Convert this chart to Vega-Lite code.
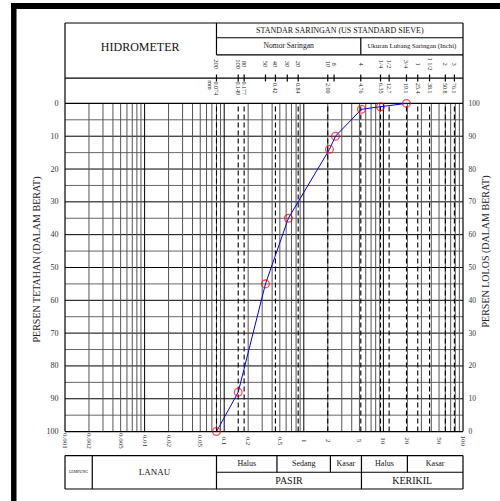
{
  "$schema": "https://vega.github.io/schema/vega-lite/v6.json",
  "width": 398,
  "height": 466,
  "autosize": {"type": "none"},
  "padding": {"left": 65, "top": 23, "right": 37, "bottom": 12},
  "background": "white",
  "config": {"font": "Liberation Serif", "view": {"stroke": null}},
  "datasets": {
    "kurva": [
      {"d": 0.08, "lolos": 0},
      {"d": 0.15, "lolos": 12},
      {"d": 0.33, "lolos": 45},
      {"d": 0.64, "lolos": 65},
      {"d": 2.1, "lolos": 86},
      {"d": 2.5, "lolos": 90},
      {"d": 5.3, "lolos": 98.2},
      {"d": 9.2, "lolos": 99},
      {"d": 19.5, "lolos": 100}
    ],
    "saringan": [
      {"no": "200", "mm": "0.074", "pos": 0.08},
      {"no": "100", "mm": "0.149", "pos": 0.15},
      {"no": "80", "mm": "0.177", "pos": 0.178},
      {"no": "50", "mm": "", "pos": 0.33},
      {"no": "40", "mm": "0.42", "pos": 0.44},
      {"no": "30", "mm": "", "pos": 0.62},
      {"no": "20", "mm": "0.84", "pos": 0.85},
      {"no": "10", "mm": "2.00", "pos": 2.0},
      {"no": "8", "mm": "", "pos": 2.4},
      {"no": "4", "mm": "4.76", "pos": 5.2},
      {"no": "1/4", "mm": "6.35", "pos": 9.2},
      {"no": "1/2", "mm": "12.7", "pos": 11.8},
      {"no": "3/4", "mm": "19.1", "pos": 19.5},
      {"no": "1", "mm": "25.4", "pos": 27},
      {"no": "1 1/2", "mm": "38.1", "pos": 38},
      {"no": "2", "mm": "50.8", "pos": 60},
      {"no": "3", "mm": "76.1", "pos": 78}
    ],
    "grid_v": [
      {"d": 0.002}, {"d": 0.003}, {"d": 0.004}, {"d": 0.005}, {"d": 0.006}, {"d": 0.007}, {"d": 0.008}, {"d": 0.009},
      {"d": 0.01}, {"d": 0.02}, {"d": 0.03}, {"d": 0.04}, {"d": 0.05}, {"d": 0.06}, {"d": 0.07}, {"d": 0.08}, {"d": 0.09},
      {"d": 0.1}, {"d": 0.2}, {"d": 0.3}, {"d": 0.4}, {"d": 0.5}, {"d": 0.6}, {"d": 0.7}, {"d": 0.8}, {"d": 0.9},
      {"d": 1}, {"d": 2}, {"d": 3}, {"d": 4}, {"d": 5}, {"d": 6}, {"d": 7}, {"d": 8}, {"d": 9},
      {"d": 10}, {"d": 20}, {"d": 30}, {"d": 40}, {"d": 50}, {"d": 60}, {"d": 70}, {"d": 80}, {"d": 90}
    ],
    "grid_h": [
      {"p": 5}, {"p": 10}, {"p": 15}, {"p": 20}, {"p": 25}, {"p": 30}, {"p": 35}, {"p": 40}, {"p": 45},
      {"p": 50}, {"p": 55}, {"p": 60}, {"p": 65}, {"p": 70}, {"p": 75}, {"p": 80}, {"p": 85}, {"p": 90}, {"p": 95}
    ],
    "garis": [
      {"x1": 0.001, "x2": 100, "y1": 124.5, "y2": 124.5},
      {"x1": 0.08, "x2": 100, "y1": 120, "y2": 120},
      {"x1": 0.08, "x2": 100, "y1": 114.8, "y2": 114.8},
      {"x1": 0.001, "x2": 100, "y1": 107.7, "y2": 107.7},
      {"x1": 0.001, "x2": 100, "y1": 100, "y2": 100},
      {"x1": 0.001, "x2": 100, "y1": 0, "y2": 0},
      {"x1": 0.001, "x2": 0.001, "y1": 0, "y2": 124.5},
      {"x1": 100, "x2": 100, "y1": 0, "y2": 124.5},
      {"x1": 0.08, "x2": 0.08, "y1": 114.8, "y2": 124.5},
      {"x1": 5.2, "x2": 5.2, "y1": 114.8, "y2": 120},
      {"x1": 0.001, "x2": 100, "y1": -7.3, "y2": -7.3},
      {"x1": 0.08, "x2": 100, "y1": -12.4, "y2": -12.4},
      {"x1": 0.001, "x2": 100, "y1": -17.5, "y2": -17.5},
      {"x1": 0.001, "x2": 0.001, "y1": -17.5, "y2": -7.3},
      {"x1": 0.0022, "x2": 0.0022, "y1": -17.5, "y2": -7.3},
      {"x1": 0.08, "x2": 0.08, "y1": -17.5, "y2": -7.3},
      {"x1": 5.3, "x2": 5.3, "y1": -17.5, "y2": -7.3},
      {"x1": 100, "x2": 100, "y1": -17.5, "y2": -7.3},
      {"x1": 0.46, "x2": 0.46, "y1": -12.4, "y2": -7.3},
      {"x1": 2.16, "x2": 2.16, "y1": -12.4, "y2": -7.3},
      {"x1": 20, "x2": 20, "y1": -12.4, "y2": -7.3}
    ],
    "bingkai": [
      {"x1": 0.00021, "x2": 0.000246, "y1": 130.6, "y2": -22},
      {"x1": 0.00021, "x2": 300, "y1": 130.6, "y2": 128.8}
    ],
    "teks": [
      {"t": "HIDROMETER", "x": 0.0088, "y": 117.1, "jenis": "judul"},
      {"t": "STANDAR SARINGAN (US STANDARD SIEVE)", "x": 2.83, "y": 122.2, "jenis": "tabel"},
      {"t": "Nomor Saringan", "x": 0.645, "y": 117.4, "jenis": "sub"},
      {"t": "Ukuran Lubang Saringan (Inchi)", "x": 22.8, "y": 117.4, "jenis": "subkecil"},
      {"t": "LEMPUNG", "x": 0.00148, "y": -12.4, "jenis": "mini"},
      {"t": "LANAU", "x": 0.0133, "y": -12.4, "jenis": "fraksi"},
      {"t": "Halus", "x": 0.192, "y": -9.85, "jenis": "tabel"},
      {"t": "Sedang", "x": 1.0, "y": -9.85, "jenis": "tabel"},
      {"t": "Kasar", "x": 3.38, "y": -9.85, "jenis": "tabel"},
      {"t": "Halus", "x": 10.3, "y": -9.85, "jenis": "tabel"},
      {"t": "Kasar", "x": 44.7, "y": -9.85, "jenis": "tabel"},
      {"t": "PASIR", "x": 0.651, "y": -14.95, "jenis": "kelompok"},
      {"t": "KERIKIL", "x": 23, "y": -14.95, "jenis": "kelompok"}
    ],
    "label_x": [
      {"d": 0.001, "t": "0.001"}, {"d": 0.002, "t": "0.002"}, {"d": 0.005, "t": "0.005"},
      {"d": 0.01, "t": "0.01"}, {"d": 0.02, "t": "0.02"}, {"d": 0.05, "t": "0.05"},
      {"d": 0.1, "t": "0.1"}, {"d": 0.2, "t": "0.2"}, {"d": 0.5, "t": "0.5"},
      {"d": 1, "t": "1"}, {"d": 2, "t": "2"}, {"d": 5, "t": "5"},
      {"d": 10, "t": "10"}, {"d": 20, "t": "20"}, {"d": 50, "t": "50"}, {"d": 100, "t": "100"}
    ]
  },
  "layer": [
    {
      "data": {"name": "grid_h"},
      "mark": {"type": "rule", "strokeWidth": 1},
      "encoding": {
        "y": {
          "field": "p", "type": "quantitative",
          "scale": {"domain": [-17.5, 124.5], "nice": false, "zero": false},
          "axis": {
            "orient": "right", "values": [0, 10, 20, 30, 40, 50, 60, 70, 80, 90, 100],
            "title": "PERSEN LOLOS (DALAM BERAT)", "domain": false, "ticks": false, "grid": false,
            "labelPadding": 5, "labelFontSize": 7.5, "labelColor": "#333",
            "titleFontSize": 10, "titleFontWeight": "normal", "titleColor": "#222",
            "titleAngle": -90, "titleY": 228, "titlePadding": 11
          }
        },
        "stroke": {"condition": {"test": "datum.p % 10 === 0", "value": "#000"}, "value": "#666"}
      }
    },
    {
      "data": {"name": "grid_h"},
      "mark": {"type": "rule", "strokeOpacity": 0},
      "encoding": {
        "y": {
          "field": "p", "type": "quantitative",
          "scale": {"domain": [-17.5, 124.5], "nice": false, "zero": false},
          "axis": {
            "orient": "left", "values": [0, 10, 20, 30, 40, 50, 60, 70, 80, 90, 100],
            "labelExpr": "'' + (100 - datum.value)",
            "title": "PERSEN TETAHAN (DALAM BERAT)", "domain": false, "ticks": false, "grid": false,
            "labelPadding": 7, "labelFontSize": 8, "labelColor": "#333",
            "titleFontSize": 10, "titleFontWeight": "normal", "titleColor": "#222",
            "titleY": 236, "titlePadding": 5
          }
        }
      }
    },
    {
      "layer": [
        {
          "data": {"name": "grid_v"},
          "mark": {"type": "rule", "strokeWidth": 1},
          "encoding": {
            "x": {"field": "d", "type": "quantitative", "scale": {"type": "log", "domain": [0.001, 100], "nice": false}, "axis": null},
            "y": {"datum": 0, "type": "quantitative", "scale": {"domain": [-17.5, 124.5], "nice": false, "zero": false}, "axis": null},
            "y2": {"datum": 100},
            "stroke": {"condition": {"test": "abs(log(datum.d)/LN10 - round(log(datum.d)/LN10)) < 0.000001", "value": "#000"}, "value": "#555"}
          }
        },
        {
          "data": {"name": "saringan"},
          "transform": [{"filter": "datum.mm != ''"}],
          "mark": {"type": "rule", "strokeWidth": 1.1, "strokeDash": [5, 3], "color": "#000"},
          "encoding": {
            "x": {"field": "pos", "type": "quantitative", "scale": {"type": "log", "domain": [0.001, 100], "nice": false}, "axis": null},
            "y": {"datum": 0, "type": "quantitative", "axis": null},
            "y2": {"datum": 100}
          }
        },
        {
          "data": {"name": "garis"},
          "mark": {"type": "rule", "strokeWidth": 1.2, "color": "#000"},
          "encoding": {
            "x": {"field": "x1", "type": "quantitative", "scale": {"type": "log", "domain": [0.001, 100], "nice": false}, "axis": null},
            "x2": {"field": "x2"},
            "y": {"field": "y1", "type": "quantitative", "axis": null},
            "y2": {"field": "y2"}
          }
        },
        {
          "data": {"name": "bingkai"},
          "mark": {"type": "rect", "color": "#000"},
          "encoding": {
            "x": {"field": "x1", "type": "quantitative", "scale": {"type": "log", "domain": [0.001, 100], "nice": false}, "axis": null},
            "x2": {"field": "x2"},
            "y": {"field": "y1", "type": "quantitative", "axis": null},
            "y2": {"field": "y2"}
          }
        },
        {
          "data": {"name": "saringan"},
          "mark": {"type": "rule", "strokeWidth": 1.2, "color": "#000"},
          "encoding": {
            "x": {"field": "pos", "type": "quantitative", "scale": {"type": "log", "domain": [0.001, 100], "nice": false}, "axis": null},
            "y": {"datum": 106.7, "type": "quantitative", "axis": null},
            "y2": {"datum": 108.8}
          }
        },
        {
          "data": {"name": "saringan"},
          "mark": {"type": "text", "angle": 90, "align": "center", "baseline": "middle", "fontSize": 6.5, "color": "#222"},
          "encoding": {
            "x": {"field": "pos", "type": "quantitative", "scale": {"type": "log", "domain": [0.001, 100], "nice": false}, "axis": null},
            "y": {"datum": 112, "type": "quantitative", "axis": null},
            "text": {"field": "no"}
          }
        },
        {
          "data": {"name": "saringan"},
          "mark": {"type": "text", "angle": 90, "align": "center", "baseline": "middle", "fontSize": 6, "color": "#222"},
          "encoding": {
            "x": {"field": "pos", "type": "quantitative", "scale": {"type": "log", "domain": [0.001, 100], "nice": false}, "axis": null},
            "y": {"datum": 104.6, "type": "quantitative", "axis": null},
            "text": {"field": "mm"}
          }
        },
        {
          "data": {"values": [{"t": "mm", "x": 0.066}]},
          "mark": {"type": "text", "angle": 90, "align": "center", "baseline": "middle", "fontSize": 6, "color": "#222"},
          "encoding": {
            "x": {"field": "x", "type": "quantitative", "scale": {"type": "log", "domain": [0.001, 100], "nice": false}, "axis": null},
            "y": {"datum": 105.6, "type": "quantitative", "axis": null},
            "text": {"field": "t"}
          }
        },
        {
          "data": {"name": "teks"},
          "transform": [{"filter": "datum.jenis === 'judul'"}],
          "mark": {"type": "text", "align": "center", "baseline": "middle", "color": "#111", "fontSize": 12},
          "encoding": {
            "x": {"field": "x", "type": "quantitative", "scale": {"type": "log", "domain": [0.001, 100], "nice": false}, "axis": null},
            "y": {"field": "y", "type": "quantitative", "axis": null},
            "text": {"field": "t"}
          }
        },
        {
          "data": {"name": "teks"},
          "transform": [{"filter": "datum.jenis === 'kelompok'"}],
          "mark": {"type": "text", "align": "center", "baseline": "middle", "color": "#111", "fontSize": 10},
          "encoding": {
            "x": {"field": "x", "type": "quantitative", "scale": {"type": "log", "domain": [0.001, 100], "nice": false}, "axis": null},
            "y": {"field": "y", "type": "quantitative", "axis": null},
            "text": {"field": "t"}
          }
        },
        {
          "data": {"name": "teks"},
          "transform": [{"filter": "datum.jenis === 'fraksi'"}],
          "mark": {"type": "text", "align": "center", "baseline": "middle", "color": "#111", "fontSize": 9},
          "encoding": {
            "x": {"field": "x", "type": "quantitative", "scale": {"type": "log", "domain": [0.001, 100], "nice": false}, "axis": null},
            "y": {"field": "y", "type": "quantitative", "axis": null},
            "text": {"field": "t"}
          }
        },
        {
          "data": {"name": "teks"},
          "transform": [{"filter": "datum.jenis === 'tabel'"}],
          "mark": {"type": "text", "align": "center", "baseline": "middle", "color": "#111", "fontSize": 8},
          "encoding": {
            "x": {"field": "x", "type": "quantitative", "scale": {"type": "log", "domain": [0.001, 100], "nice": false}, "axis": null},
            "y": {"field": "y", "type": "quantitative", "axis": null},
            "text": {"field": "t"}
          }
        },
        {
          "data": {"name": "teks"},
          "transform": [{"filter": "datum.jenis === 'sub'"}],
          "mark": {"type": "text", "align": "center", "baseline": "middle", "color": "#111", "fontSize": 7.6},
          "encoding": {
            "x": {"field": "x", "type": "quantitative", "scale": {"type": "log", "domain": [0.001, 100], "nice": false}, "axis": null},
            "y": {"field": "y", "type": "quantitative", "axis": null},
            "text": {"field": "t"}
          }
        },
        {
          "data": {"name": "teks"},
          "transform": [{"filter": "datum.jenis === 'subkecil'"}],
          "mark": {"type": "text", "align": "center", "baseline": "middle", "color": "#111", "fontSize": 6.8},
          "encoding": {
            "x": {"field": "x", "type": "quantitative", "scale": {"type": "log", "domain": [0.001, 100], "nice": false}, "axis": null},
            "y": {"field": "y", "type": "quantitative", "axis": null},
            "text": {"field": "t"}
          }
        },
        {
          "data": {"name": "teks"},
          "transform": [{"filter": "datum.jenis === 'mini'"}],
          "mark": {"type": "text", "align": "center", "baseline": "middle", "color": "#111", "fontSize": 4},
          "encoding": {
            "x": {"field": "x", "type": "quantitative", "scale": {"type": "log", "domain": [0.001, 100], "nice": false}, "axis": null},
            "y": {"field": "y", "type": "quantitative", "axis": null},
            "text": {"field": "t"}
          }
        },
        {
          "data": {"name": "label_x"},
          "mark": {"type": "text", "angle": 90, "align": "center", "baseline": "middle", "fontSize": 7, "color": "#333"},
          "encoding": {
            "x": {"field": "d", "type": "quantitative", "scale": {"type": "log", "domain": [0.001, 100], "nice": false}, "axis": null},
            "y": {"datum": -2.8, "type": "quantitative", "axis": null},
            "text": {"field": "t"}
          }
        },
        {
          "data": {"name": "kurva"},
          "mark": {"type": "line", "color": "#0000ff", "strokeWidth": 1},
          "encoding": {
            "x": {"field": "d", "type": "quantitative", "scale": {"type": "log", "domain": [0.001, 100], "nice": false}, "axis": null},
            "y": {"field": "lolos", "type": "quantitative", "scale": {"domain": [-17.5, 124.5], "nice": false, "zero": false}, "axis": null}
          }
        },
        {
          "data": {"name": "kurva"},
          "mark": {"type": "point", "shape": "circle", "filled": false, "color": "#ff0000", "size": 60, "strokeWidth": 1.3},
          "encoding": {
            "x": {"field": "d", "type": "quantitative", "scale": {"type": "log", "domain": [0.001, 100], "nice": false}, "axis": null},
            "y": {"field": "lolos", "type": "quantitative", "axis": null}
          }
        }
      ]
    }
  ],
  "resolve": {"scale": {"y": "independent"}, "axis": {"y": "independent"}}
}
